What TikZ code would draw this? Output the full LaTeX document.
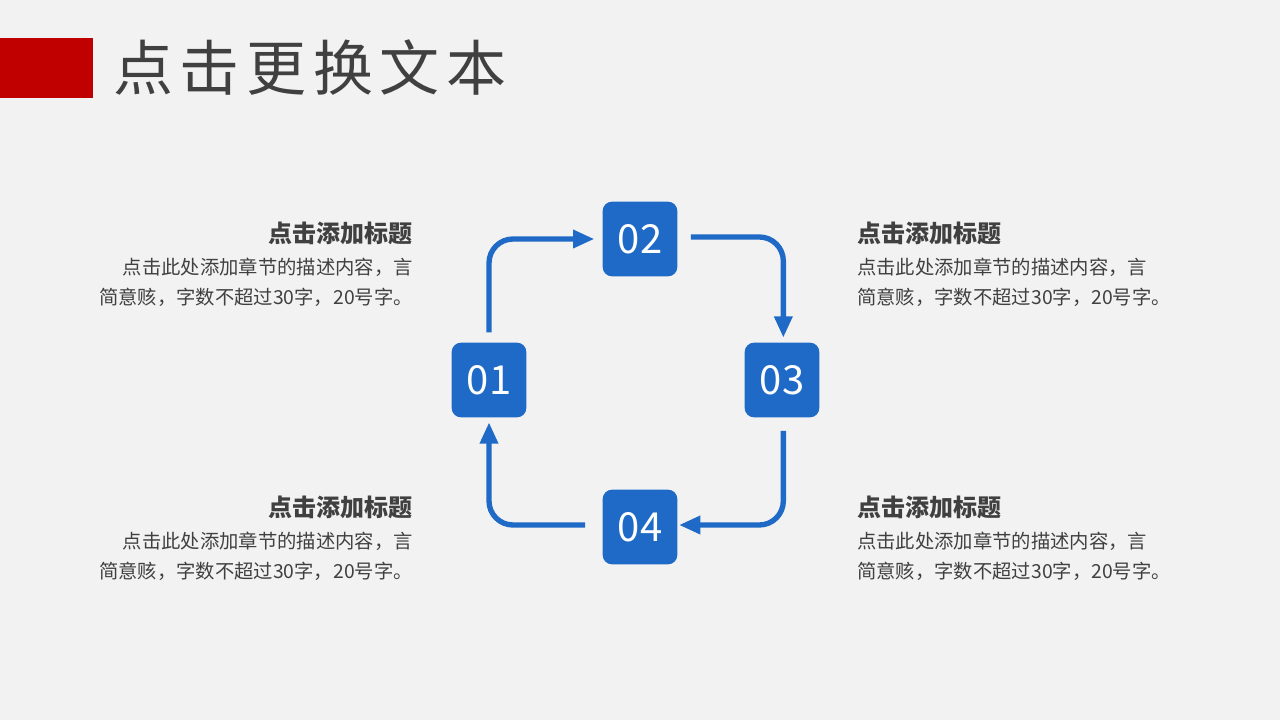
\documentclass[tikz,border=0pt]{standalone}
\usepackage{fontspec}
\setmainfont{Noto Sans CJK SC}
\newfontfamily\cjkbold[BoldFont={* Bold}]{Noto Sans CJK SC}
\usetikzlibrary{positioning,arrows.meta}
\definecolor{titlered}{HTML}{C00000}
\definecolor{boxblue}{HTML}{1F6AC6}
\definecolor{textgray}{HTML}{404040}
\tikzset{>={Triangle[width=13pt,length=16pt]}}

\begin{document}
\begin{tikzpicture}[x=0.75pt,y=-0.75pt]
    \tikzstyle{numbox} = [fill=boxblue, rounded corners=7pt, minimum size=56pt, inner sep=0pt, text=white, font=\fontsize{30}{30}\selectfont]
    \tikzstyle{flow} = [draw=boxblue, line width=4pt, rounded corners=18pt, ->]
    \tikzstyle{headtext} = [text=textgray, font=\fontsize{18}{18}\selectfont\bfseries, inner sep=0pt]
    \tikzstyle{bodytext} = [text=textgray, font=\fontsize{14.5}{22.5}\selectfont, inner sep=0pt, align=left]
    \fill[gray!10] (0,0) rectangle (1280,720);
    \useasboundingbox (0,0) rectangle (1280,720);
    \fill[titlered] (0,38) rectangle (93,98);
    \node[anchor=west, text=textgray, font=\fontsize{45}{45}\selectfont, inner sep=0pt] (title) at (113,68) {点\hspace{5pt}击\hspace{5pt}更\hspace{5pt}换\hspace{5pt}文\hspace{5pt}本};

    \node[numbox] (n02) at (640,239) {02};
    \node[numbox] (n01) at (489,380) {01};
    \node[numbox] (n03) at (782,380) {03};
    \node[numbox] (n04) at (640,527) {04};

    \draw[flow] ([yshift=7.5pt]n01.north) |- ([xshift=-6pt]n02.west);
    \draw[flow] ([xshift=10pt,yshift=1.5pt]n02.east) -| ([xshift=1pt,yshift=3.5pt]n03.north);
    \draw[flow] ([xshift=1pt,yshift=-10pt]n03.south) |- ([xshift=1pt,yshift=1.5pt]n04.east);
    \draw[flow] ([xshift=-13pt,yshift=1.5pt]n04.west) -| ([yshift=-3.5pt]n01.south);

    \node[headtext, anchor=east] (h1) at (413,233) {点击添加标题};
    \node[bodytext, anchor=north east, align=right] (b1) at (413,258) {点击此处添加章节的描述内容，言\\简意赅，字数不超过30字，20号字。};
    \node[headtext, anchor=west] (h2) at (857,233) {点击添加标题};
    \node[bodytext, anchor=north west] (b2) at (857,258) {点击此处添加章节的描述内容，言\\简意赅，字数不超过30字，20号字。};
    \node[headtext, anchor=east] (h3) at (413,507) {点击添加标题};
    \node[bodytext, anchor=north east, align=right] (b3) at (413,532) {点击此处添加章节的描述内容，言\\简意赅，字数不超过30字，20号字。};
    \node[headtext, anchor=west] (h4) at (857,507) {点击添加标题};
    \node[bodytext, anchor=north west] (b4) at (857,532) {点击此处添加章节的描述内容，言\\简意赅，字数不超过30字，20号字。};
\end{tikzpicture}
\end{document}
